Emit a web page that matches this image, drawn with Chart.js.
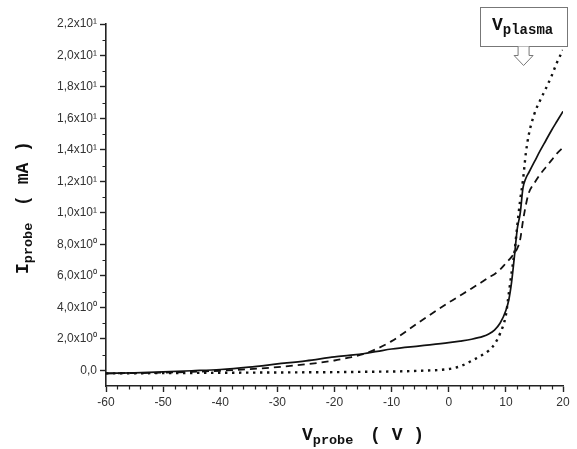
<!DOCTYPE html>
<html>
<head>
<meta charset="utf-8">
<script src="https://cdn.jsdelivr.net/npm/chart.js@4"></script>
<style>
  body { margin: 0; background: #fff; }
  canvas { display: block; }
</style>
</head>
<body>
<canvas id="probe-chart" width="577" height="449"></canvas>
<script>
/* Langmuir probe I-V curves */

// probe voltage (V), shared by the three curves
const vProbe = [-60, -55, -50, -45, -40, -35, -30, -25, -20, -17.5, -15, -12.5, -10, -5, 0, 2, 4, 6, 7, 8, 9, 10,
  10.5, 11, 11.5, 12, 12.5, 13, 13.5, 14, 15, 16, 17, 18, 19, 20];

// probe current (mA)
const solidI = [-0.2, -0.16, -0.1, -0.03, 0.05, 0.2, 0.4, 0.6, 0.85, 0.95, 1.05, 1.2, 1.35, 1.55, 1.75, 1.85, 1.97, 2.15, 2.3, 2.55, 3.0, 3.8,
  4.45, 5.6, 7.25, 9.0, 9.95, 11.6, 12.2, 12.55, 13.25, 13.95, 14.6, 15.25, 15.85, 16.45];
const dashedI = [-0.2, -0.18, -0.15, -0.1, -0.03, 0.07, 0.2, 0.38, 0.62, 0.8, 1.02, 1.38, 1.85, 3.1, 4.3, 4.75, 5.2, 5.65, 5.9, 6.1, 6.4, 6.8,
  7.0, 7.2, 7.45, 7.75, 8.3, 9.5, 10.5, 11.25, 11.9, 12.45, 12.9, 13.35, 13.8, 14.15];
const dottedI = [-0.2, -0.19, -0.18, -0.17, -0.16, -0.15, -0.14, -0.13, -0.12, -0.11, -0.1, -0.09, -0.08, -0.03, 0.08, 0.25, 0.6, 1.0, 1.25, 1.65, 2.35, 3.5,
  4.85, 6.2, 7.5, 9.2, 10.8, 12.1, 13.8, 14.95, 16.3, 17.15, 17.9, 18.7, 19.6, 20.35];

const xTickValues = [-60, -50, -40, -30, -20, -10, 0, 10, 20];
const xTickLabels = ["-60", "-50", "-40", "-30", "-20", "-10", "0", "10", "20"];
const yTickValues = [0, 2, 4, 6, 8, 10, 12, 14, 16, 18, 20, 22];
const yTickLabels = ["0,0", "2,0x10\u2070", "4,0x10\u2070", "6,0x10\u2070", "8,0x10\u2070", "1,0x10\u00b9",
  "1,2x10\u00b9", "1,4x10\u00b9", "1,6x10\u00b9", "1,8x10\u00b9", "2,0x10\u00b9", "2,2x10\u00b9"];

const vPlasma = 13.1;

const AXIS = "#222";
const MONO = "'Liberation Mono', 'Courier New', monospace";
const SANS = "'Liberation Sans', Arial, sans-serif";

function pts(ys){
  return vProbe.map((v, i) => ({ x: v, y: ys[i] }));
}

// text with a subscript, e.g. V_probe ( V )
function subText(ctx, main, sub, rest, x, y, subSize){
  ctx.fillStyle = "#111";
  ctx.textBaseline = "alphabetic";
  ctx.textAlign = "left";
  ctx.font = "bold 18px " + MONO;
  ctx.fillText(main, x, y);
  let cx = x + ctx.measureText(main).width;
  ctx.font = "bold " + subSize + "px " + MONO;
  ctx.fillText(sub, cx, y + 4);
  cx += ctx.measureText(sub).width;
  if(rest){
    ctx.font = "bold 18px " + MONO;
    ctx.fillText(rest, cx + 6, y);
  }
}

const decorations = {
  id: "decorations",
  afterDraw(chart){
    const { ctx, chartArea, scales: { x, y } } = chart;
    ctx.save();

    // minor ticks
    ctx.strokeStyle = AXIS;
    ctx.lineWidth = 1.2;
    ctx.beginPath();
    for(let v = -58; v < 20; v += 2){
      if(v % 10 === 0) continue;
      const px = Math.round(x.getPixelForValue(v)) + 0.5;
      ctx.moveTo(px, chartArea.bottom);
      ctx.lineTo(px, chartArea.bottom + 3.5);
    }
    for(let v = 1; v < 22; v += 2){
      const py = Math.round(y.getPixelForValue(v)) + 0.5;
      ctx.moveTo(chartArea.left, py);
      ctx.lineTo(chartArea.left - 3.5, py);
    }
    ctx.stroke();

    // axis titles
    subText(ctx, "V", "probe", " ( V )", 302, 440, 13.5);
    ctx.save();
    ctx.translate(28, 274);
    ctx.rotate(-Math.PI / 2);
    subText(ctx, "I", "probe", " ( mA )", 0, 0, 13.5);
    ctx.restore();

    // V_plasma callout
    const ax = x.getPixelForValue(vPlasma);
    ctx.strokeStyle = "#777";
    ctx.lineWidth = 1;
    ctx.strokeRect(480.5, 7.5, 87, 39);
    subText(ctx, "V", "plasma", "", 492, 30, 14);
    ctx.beginPath();
    ctx.moveTo(ax - 5.5, 46.5);
    ctx.lineTo(ax - 5.5, 55.5);
    ctx.lineTo(ax - 9.5, 55.5);
    ctx.lineTo(ax, 65.5);
    ctx.lineTo(ax + 9.5, 55.5);
    ctx.lineTo(ax + 5.5, 55.5);
    ctx.lineTo(ax + 5.5, 46.5);
    ctx.fillStyle = "#fff";
    ctx.fill();
    ctx.stroke();

    ctx.restore();
  }
};

const axisCommon = {
  type: "linear",
  grid: { drawOnChartArea: false, drawTicks: true, tickLength: 6, tickColor: AXIS, tickWidth: 1.4 },
  border: { display: true, color: AXIS, width: 1.6 },
};

new Chart(document.getElementById("probe-chart"), {
  type: "scatter",
  data: {
    datasets: [
      {
        label: "dashed",
        data: pts(dashedI),
        showLine: true,
        borderColor: "#111",
        borderWidth: 1.8,
        borderDash: [7, 5],
        pointRadius: 0,
        cubicInterpolationMode: "monotone"
      },
      {
        label: "dotted",
        data: pts(dottedI),
        showLine: true,
        borderColor: "#111",
        borderWidth: 2.4,
        borderDash: [2.4, 4.6],
        pointRadius: 0,
        cubicInterpolationMode: "monotone"
      },
      {
        label: "solid",
        data: pts(solidI),
        showLine: true,
        borderColor: "#111",
        borderWidth: 1.7,
        pointRadius: 0,
        cubicInterpolationMode: "monotone"
      }
    ]
  },
  options: {
    responsive: false,
    animation: false,
    devicePixelRatio: 1,
    layout: { padding: { top: 24, right: 14, left: 0, bottom: 0 } },
    plugins: { legend: { display: false }, tooltip: { enabled: false } },
    scales: {
      x: {
        ...axisCommon,
        min: -60,
        max: 20,
        afterBuildTicks: s => { s.ticks = xTickValues.map(v => ({ value: v })); },
        afterFit: s => { s.height = 63; },
        ticks: {
          autoSkip: false,
          maxRotation: 0,
          padding: 3,
          color: "#333",
          font: { family: SANS, size: 12 },
          callback: v => xTickLabels[xTickValues.indexOf(v)]
        }
      },
      y: {
        ...axisCommon,
        min: -1,
        max: 22,
        afterBuildTicks: s => { s.ticks = yTickValues.map(v => ({ value: v })); },
        afterFit: s => { s.width = 106; },
        ticks: {
          autoSkip: false,
          padding: 3,
          color: "#333",
          font: { family: SANS, size: 12 },
          callback: v => yTickLabels[yTickValues.indexOf(v)]
        }
      }
    }
  },
  plugins: [decorations]
});
</script>
</body>
</html>
